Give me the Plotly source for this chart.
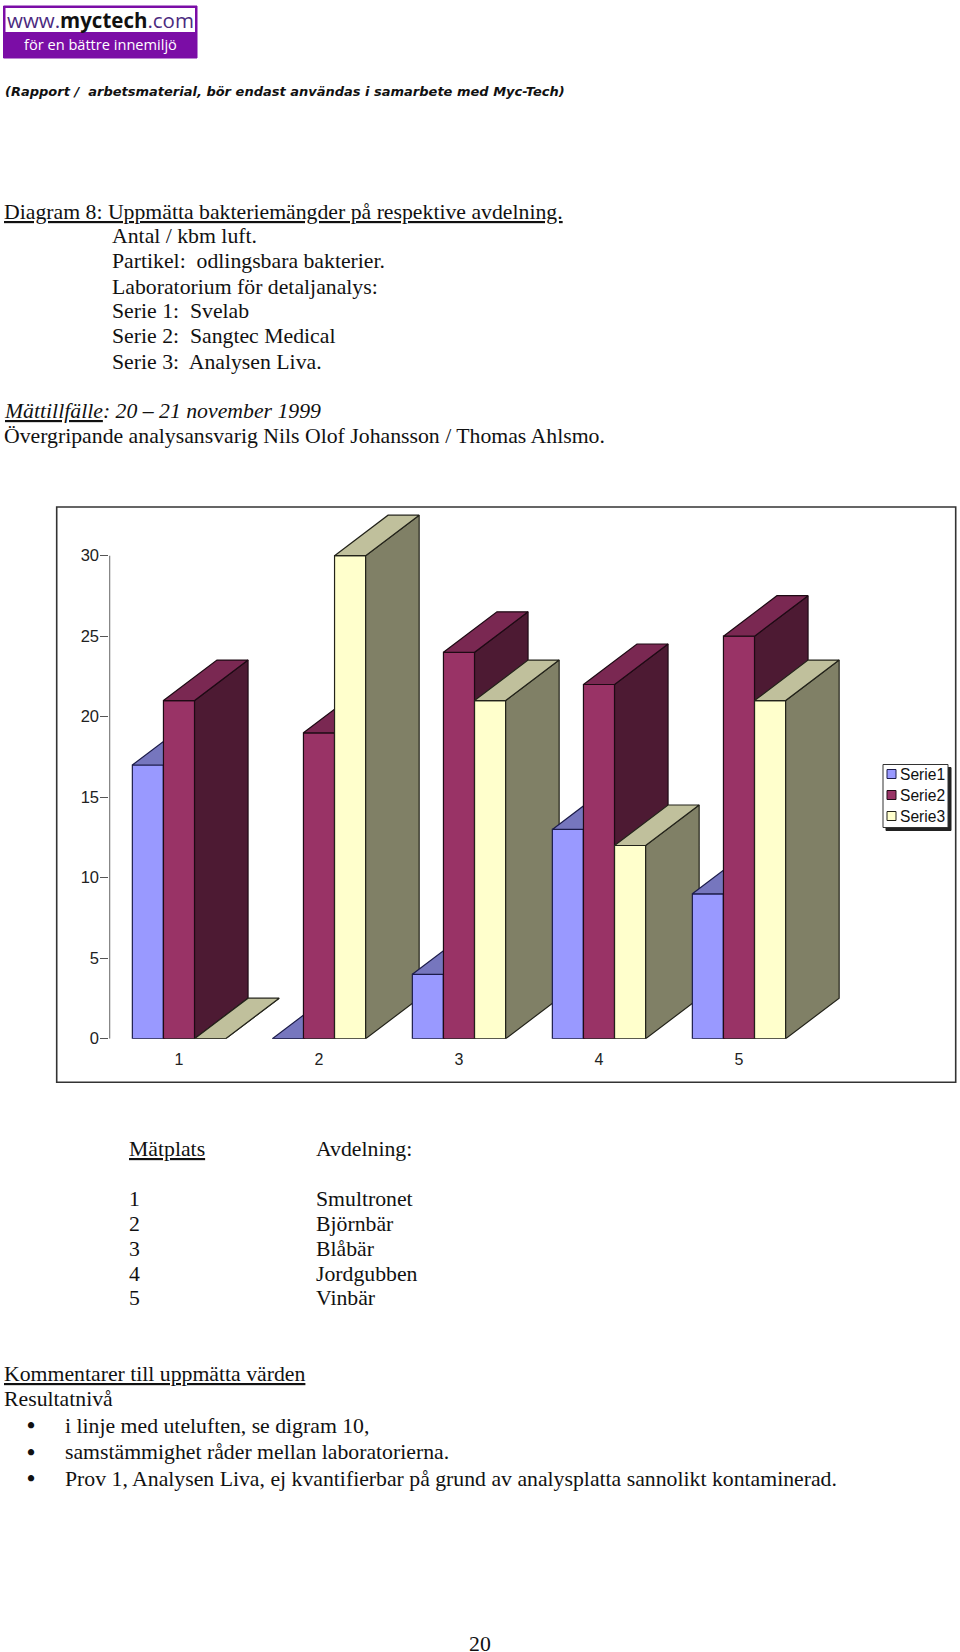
import plotly.graph_objects as go

# ---- data ----
categories = [1, 2, 3, 4, 5]
serie1 = [17, 0, 4, 13, 9]
serie2 = [21, 19, 24, 22, 25]
serie3 = [0, 30, 21, 12, 21]
series_names = ["Serie1", "Serie2", "Serie3"]
y_ticks = [0, 5, 10, 15, 20, 25, 30]

title_lines = [
    ("<u>Diagram 8: Uppmätta bakteriemängder på respektive avdelning.</u>", 3, 211.7),
    ("Antal / kbm luft.", 111, 236.5),
    ("Partikel:  odlingsbara bakterier.", 111, 261),
    ("Laboratorium för detaljanalys:", 111, 286.5),
    ("Serie 1:  Svelab", 111, 311),
    ("Serie 2:  Sangtec Medical", 111, 336),
    ("Serie 3:  Analysen Liva.", 111, 361.5),
    ("<i><u>Mättillfälle</u>: 20 – 21 november 1999</i>", 3, 410.7),
    ("Övergripande analysansvarig Nils Olof Johansson / Thomas Ahlsmo.", 3, 436),
    ("<u>Mätplats</u>", 128, 1148.5),
    ("Avdelning:", 315, 1148.5),
    ("1", 128, 1199),
    ("2", 128, 1223.5),
    ("3", 128, 1248.5),
    ("4", 128, 1274),
    ("5", 128, 1298),
    ("Smultronet", 315, 1199),
    ("Björnbär", 315, 1223.5),
    ("Blåbär", 315, 1248.5),
    ("Jordgubben", 315, 1274),
    ("Vinbär", 315, 1298),
    ("<u>Kommentarer till uppmätta värden</u>", 3, 1374),
    ("Resultatnivå", 3, 1398.5),
    ("i linje med uteluften, se digram 10,", 63.5, 1425.5),
    ("samstämmighet råder mellan laboratorierna.", 63.5, 1452),
    ("Prov 1, Analysen Liva, ej kvantifierbar på grund av analysplatta sannolikt kontaminerad.", 63.5, 1478.5),
]
bullet_rows = [1425.5, 1452, 1478.5]
header_note = "(Rapport /  arbetsmaterial, bör endast användas i samarbete med Myc-Tech)"
page_number = "20"

# ---- page geometry ----
W, H = 960, 1652
SERIF = "Liberation Serif"
SANS = "Liberation Sans"
TXT = 21.75


def px(x):
    return x / W


def py(y):
    return 1 - y / H


# plot area in page pixels, and the scale of the axes
PL, PR, PT, PB = 109.3, 875, 508.7, 1038.7
X_UNIT = 140.0
Y_UNIT = 16.1
C1 = 179
x_range = [1 - (C1 - PL) / X_UNIT, 1 + (PR - C1) / X_UNIT]
y_range = [0, (PB - PT) / Y_UNIT]
BAR_W = 31.1 / X_UNIT
DX = 53.5 / X_UNIT
DY = 40.5 / Y_UNIT

front = ["#9999FF", "#993366", "#FFFFCC"]
top = ["#7676BE", "#7A2852", "#C0C09C"]
side = ["#4D4D80", "#4D1A33", "#808066"]
edge = ["#1C1C4A", "#1E0A14", "#23231A"]
all_series = [serie1, serie2, serie3]

fig = go.Figure()

# axis line of the value axis, on the main axes
fig.add_trace(go.Scatter(x=[x_range[0], x_range[0]], y=[y_ticks[0], y_ticks[-1]], mode="lines",
                         line=dict(color="#555555", width=1.8), cliponaxis=False,
                         showlegend=False, hoverinfo="skip"))

layer = 1
extra_axes = {}
for ci, cat in enumerate(categories):
    for si, vals in enumerate(all_series):
        layer += 1
        xa, ya = f"x{layer}", f"y{layer}"
        extra_axes[f"xaxis{layer}"] = dict(overlaying="x", range=x_range, visible=False, anchor=ya,
                                           automargin=False)
        extra_axes[f"yaxis{layer}"] = dict(overlaying="y", range=y_range, visible=False, anchor=xa,
                                           automargin=False)
        v = vals[ci]
        left = cat + (si - 1.5) * BAR_W
        right = left + BAR_W
        fig.add_trace(go.Bar(x=[cat], y=[v], width=BAR_W, offset=(si - 1.5) * BAR_W,
                             marker=dict(color=front[si], line=dict(color=edge[si], width=1.2)),
                             name=series_names[si], xaxis=xa, yaxis=ya, showlegend=False))
        fig.add_trace(go.Scatter(x=[right, right + DX, right + DX, right, right],
                                 y=[0, DY, v + DY, v, 0], mode="lines", fill="toself",
                                 fillcolor=side[si], line=dict(color=edge[si], width=1.2),
                                 xaxis=xa, yaxis=ya, showlegend=False, hoverinfo="skip"))
        fig.add_trace(go.Scatter(x=[left, right, right + DX, left + DX, left],
                                 y=[v, v, v + DY, v + DY, v], mode="lines", fill="toself",
                                 fillcolor=top[si], line=dict(color=edge[si], width=1.2),
                                 xaxis=xa, yaxis=ya, showlegend=False, hoverinfo="skip"))

shapes = []
annotations = []


def rect(x0, y0, x1, y1, fill=None, line=None, lw=1, layer="below"):
    shapes.append(dict(type="rect", xref="paper", yref="paper", x0=px(x0), x1=px(x1), y0=py(y0), y1=py(y1),
                       fillcolor=fill if fill else "rgba(0,0,0,0)",
                       line=dict(color=line if line else "rgba(0,0,0,0)", width=lw), layer=layer))


def label(text, x, y, size=TXT, family=SERIF, color="#111111", anchor="left"):
    annotations.append(dict(text=text, x=px(x), y=py(y), xref="paper", yref="paper", showarrow=False,
                            xanchor=anchor, yanchor="middle", align="left", borderpad=0,
                            font=dict(family=family, size=size, color=color)))


# chart frame
rect(56.7, 507, 955.7, 1082.3, line="#333333", lw=1.6)

# legend box with shadow
LEG_X0, LEG_X1, LEG_Y0, LEG_Y1 = 883, 948, 764.5, 827.5
rect(LEG_X0 + 3, LEG_Y0 + 3, LEG_X1 + 3, LEG_Y1 + 3, fill="#222222", line="#222222")
rect(LEG_X0, LEG_Y0, LEG_X1, LEG_Y1, fill="#FFFFFF", line="#333333")
for i, nm in enumerate(series_names):
    yy = LEG_Y0 + 9.5 + i * 21
    rect(887, yy - 4.5, 896, yy + 4.5, fill=front[i], line=edge[i], lw=1)
    label(nm, 899, yy, size=15.6, family=SANS)

# logo
rect(3.5, 6, 197, 58, fill="#7B0DA6", line="#7B0DA6")
rect(5.5, 8, 195, 32, fill="#FFFFFF")
label("<span style='color:#4B2A80'>www.</span><b>myctech</b><span style='color:#4B2A80'>.com</span>",
      100, 20, size=20.5, family="Open Sans", color="#111111", anchor="center")
label("för en bättre innemiljö", 100, 44, size=14.6, family="Open Sans", color="#FFFFFF", anchor="center")

# texts
label(f"<b><i>{header_note}</i></b>", 4, 91.5, size=13, family="DejaVu Sans")
for t, x, y in title_lines:
    label(t, x, y)
for y in bullet_rows:
    label("<b>•</b>", 31, y, size=23, anchor="center")
label(page_number, 479.5, 1643.5, anchor="center")

layout = dict(
    width=W, height=H, autosize=False,
    margin=dict(l=0, r=0, t=0, b=0, pad=0, autoexpand=False),
    paper_bgcolor="#FFFFFF", plot_bgcolor="rgba(0,0,0,0)",
    showlegend=False, barmode="overlay",
    font=dict(family=SANS, size=15, color="#222222"),
    xaxis=dict(domain=[px(PL), px(PR)], range=x_range, tickmode="array", tickvals=categories,
               ticktext=[str(c) for c in categories], showgrid=False, zeroline=False, showline=False,
               automargin=False, ticks="", ticklen=0, ticklabelstandoff=9,
               tickfont=dict(family=SANS, size=16, color="#222222")),
    yaxis=dict(domain=[py(PB), py(PT)], range=y_range, tickmode="array", tickvals=y_ticks,
               showgrid=False, zeroline=False, showline=False, automargin=False, ticks="outside", ticklen=8,
               tickwidth=1.3, tickcolor="#555555", ticklabelstandoff=-2,
               tickfont=dict(family=SANS, size=16.5, color="#222222")),
    shapes=shapes, annotations=annotations,
)
layout.update(extra_axes)
fig.update_layout(**layout)

fig.write_html("out.html", config={"displayModeBar": False},
               post_script="document.body.style.margin='0';")
